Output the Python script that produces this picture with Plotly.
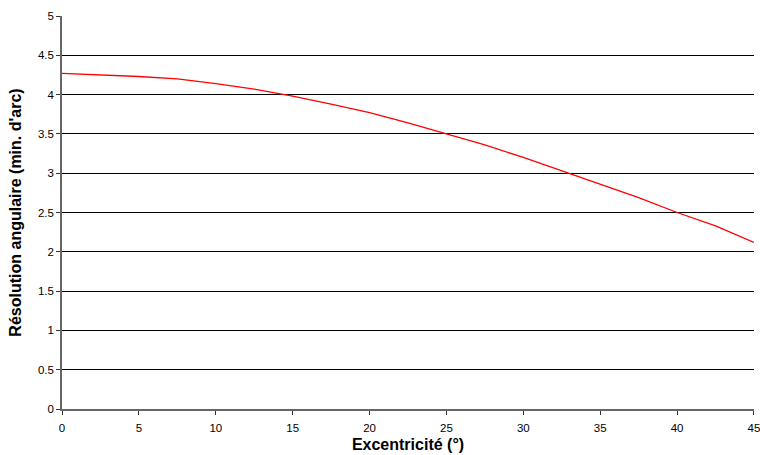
import plotly.graph_objects as go

eccentricity = [0, 2.5, 5, 7.5, 10, 12.5, 15, 17.5, 20, 22.5, 25, 27.5, 30, 32.5, 35, 37.5, 40, 42.5, 45]
resolution = [4.27, 4.25, 4.23, 4.20, 4.14, 4.07, 3.98, 3.88, 3.77, 3.64, 3.50, 3.36, 3.20, 3.03, 2.86, 2.69, 2.50, 2.33, 2.12]

x_ticks = [0, 5, 10, 15, 20, 25, 30, 35, 40, 45]
y_ticks = [0, 0.5, 1, 1.5, 2, 2.5, 3, 3.5, 4, 4.5, 5]
y_labels = ["0", "0.5", "1", "1.5", "2", "2.5", "3", "3.5", "4", "4.5", "5"]

fig = go.Figure()
fig.add_trace(go.Scatter(x=eccentricity, y=resolution, mode="lines",
                         line=dict(color="#ff0000", width=1.3), showlegend=False,
                         cliponaxis=False))

font = "Liberation Sans, Arial, sans-serif"
fig.update_layout(
    width=760, height=455,
    margin=dict(l=62, r=6, t=16, b=46, autoexpand=False),
    paper_bgcolor="white", plot_bgcolor="white",
    font=dict(family=font, size=11.5, color="black"),
    xaxis=dict(range=[0, 45.001], tickvals=x_ticks, ticks="outside", ticklen=4,
               tickcolor="#333", showgrid=False, showline=True, linecolor="#666",
               linewidth=1.5, zeroline=False, automargin=False,
               ticklabeloverflow="allow", ticklabelstandoff=3,
               title=dict(text="<b>Excentricité (°)</b>", font=dict(size=16), standoff=6)),
    yaxis=dict(range=[0, 5], tickvals=y_ticks, ticktext=y_labels, ticks="outside",
               ticklen=4, tickcolor="#333", showgrid=True, gridcolor="black",
               gridwidth=1, showline=True, linecolor="#666", linewidth=1.5,
               zeroline=False, automargin=False,
               title=dict(text="<b>Résolution angulaire (min. d'arc)</b>", font=dict(size=16), standoff=12)),
)
fig.write_html("out.html", config={"displayModeBar": False},
               post_script="document.body.style.margin='0';")
